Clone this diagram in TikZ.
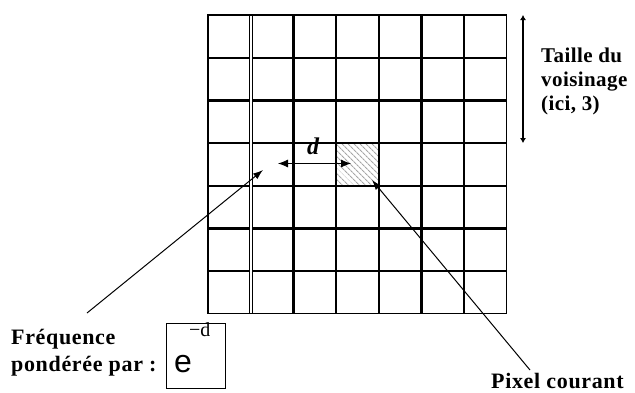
\documentclass[tikz,border=0pt]{standalone}
\usepackage{fontspec}
\setmainfont{Liberation Serif}
\setsansfont{Liberation Sans}
\usetikzlibrary{arrows.meta,patterns.meta}
\tikzset{
  grille/.style={line width=2.3pt},
  lbl/.style={font=\bfseries\fontsize{22}{24}\selectfont\addfontfeature{LetterSpace=3},inner sep=0pt,align=left},
  fleche/.style={line width=1pt,-{Latex[length=10pt,width=7pt]}}
}
\begin{document}
\begin{tikzpicture}[x=1pt,y=-1pt]
\useasboundingbox (0,0) rectangle (635,392);
\def\cel{42.7}
\node[minimum size=42.7pt,inner sep=0,pattern={Lines[angle=-45,distance=4pt,line width=1.2pt]},pattern color=gray!70] (pix) at (357.45,164.45) {};
\foreach \i in {1,...,6} \draw[grille] (208,15+\i*\cel) -- (506.9,15+\i*\cel);
\foreach \i in {2,...,6} \draw[grille] (208+\i*\cel,15) -- (208+\i*\cel,313.9);
\draw[line width=0.9pt,double,double distance=1.8pt] (250.7,15) -- (250.7,313.9);
\draw[line width=1.1pt] (208,15) rectangle (506.9,313.9);
\coordinate (th) at (523,15);
\coordinate (tb) at (523,143.1);
\draw[line width=1.6pt,{Latex[length=5pt,width=6pt]}-{Latex[length=5pt,width=6pt]}] (th) -- (tb);
\node[lbl,anchor=north west,font=\bfseries\fontsize{21}{24}\selectfont\addfontfeature{LetterSpace=2}] (taille) at (541,48) {Taille du\\voisinage\\(ici, 3)};
\coordinate (dg) at (278,163.5);
\coordinate (dd) at (351,163.5);
\draw[line width=0.8pt,{Latex[length=10pt,width=8pt]}-{Latex[length=10pt,width=8pt]}] (dg) -- (dd);
\node[font=\bfseries\itshape\fontsize{24}{24}\selectfont,inner sep=0pt] (d) at (313,146) {d};
\node[lbl,anchor=north west,font=\bfseries\fontsize{22}{27}\selectfont\addfontfeature{LetterSpace=3}] (freq) at (11,329) {Fréquence\\pondérée par :};
\coordinate (fdep) at (87,313);
\coordinate (fbut) at (263,170);
\draw[fleche] (fdep) -- (fbut);
\node[draw,line width=1pt,minimum width=59pt,minimum height=65pt,anchor=north west,inner sep=0pt] (expo) at (166,323) {};
\node[font=\sffamily\fontsize{32}{32}\selectfont,anchor=base west,inner sep=0pt] (ebase) at (174,372) {e};
\node[font=\fontsize{20}{20}\selectfont,anchor=base west,inner sep=0pt] (eexp) at (189,336) {−d};
\node[lbl,anchor=base west] (pixel) at (491,388) {Pixel courant};
\coordinate (pdep) at (530,370);
\coordinate (pbut) at (372,180);
\draw[fleche] (pdep) -- (pbut);
\end{tikzpicture}
\end{document}
